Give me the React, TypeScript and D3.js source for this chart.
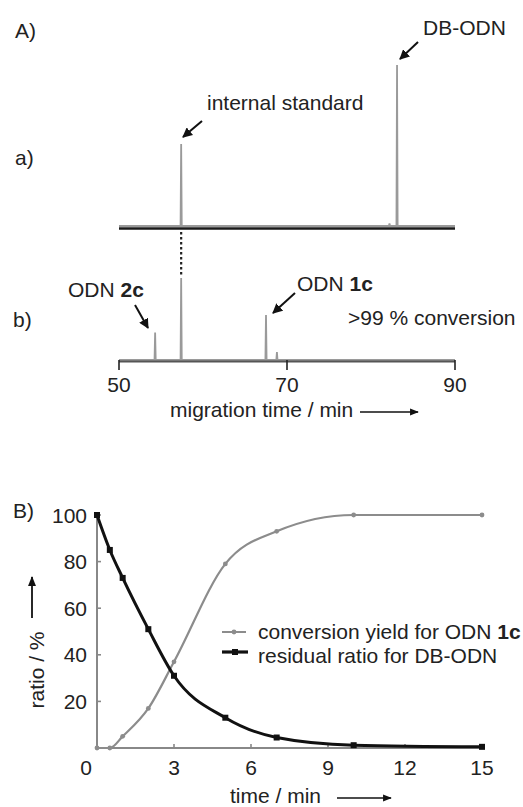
import React from "react";
import * as d3 from "d3";

// ---- Panel A data (capillary electrophoresis traces) ----
const migTicks = [50, 70, 90];
// peaks: migration time (min), relative intensity (a.u.)
const traceAPeaks = [
  { t: 57.4, h: 51 },
  { t: 82.2, h: 1.5 },
  { t: 83.1, h: 100 },
];
const traceBPeaks = [
  { t: 54.3, h: 17 },
  { t: 57.4, h: 51 },
  { t: 67.5, h: 28 },
  { t: 68.8, h: 5 },
];

// ---- Panel B data ----
const timePoints = [0, 0.5, 1, 2, 3, 5, 7, 10, 15];
const conversionYield = [0, 0, 5, 17, 37, 79, 93, 100, 100];
const residualRatio = [100, 85, 73, 51, 31, 13, 4.5, 1.2, 0.5];
const timeTicks = [0, 3, 6, 9, 12, 15];
const ratioTicks = [20, 40, 60, 80, 100];

const FONT = "'Liberation Sans', Arial, Helvetica, sans-serif";
const FS = 21;

export default function App() {
  // Panel A scales
  const xA = d3.scaleLinear().domain([50, 90]).range([119, 455]);
  const hA = d3.scaleLinear().domain([0, 100]).range([0, 161]);
  const baseA = 226;
  const baseB = 360;
  const halfW = 0.07;

  const tracePath = (peaks: { t: number; h: number }[], base: number) => {
    const pts: [number, number][] = [[50, 0]];
    peaks.forEach((p) => {
      pts.push([p.t - halfW, 0], [p.t, p.h], [p.t + halfW, 0]);
    });
    pts.push([90, 0]);
    return d3
      .line<[number, number]>()
      .x((d) => xA(d[0]))
      .y((d) => base - hA(d[1]))(pts) as string;
  };

  // Panel B scales
  const xB = d3.scaleLinear().domain([0, 15]).range([97, 482]);
  const yB = d3.scaleLinear().domain([0, 100]).range([748, 515]);
  const convData = timePoints.map((t, i) => [t, conversionYield[i]] as [number, number]);
  const resData = timePoints.map((t, i) => [t, residualRatio[i]] as [number, number]);
  const lineB = d3
    .line<[number, number]>()
    .x((d) => xB(d[0]))
    .y((d) => yB(d[1]))
    .curve(d3.curveMonotoneX);

  const isX = xA(traceAPeaks[0].t);

  return (
    <svg width={523} height={807} style={{ position: "absolute", left: 0, top: 0, background: "#fff" }}
      fontFamily={FONT} fontSize={FS} fill="#222">
      <defs>
        <marker id="ah" viewBox="0 0 10 10" refX="9" refY="5" markerWidth="5" markerHeight="5" orient="auto" markerUnits="strokeWidth">
          <path d="M0,0 L10,5 L0,10 z" fill="#111" />
        </marker>
        <marker id="ah2" viewBox="0 0 10 10" refX="9" refY="5" markerWidth="8" markerHeight="5.5" orient="auto" markerUnits="strokeWidth">
          <path d="M0,1 L10,5 L0,9 z" fill="#111" />
        </marker>
      </defs>
      <rect x={0} y={0} width={523} height={807} fill="#fff" />

      {/* ---------------- Panel A ---------------- */}
      <text x={15} y={38}>A)</text>
      <text x={15} y={165}>a)</text>
      <text x={13} y={327}>b)</text>

      {/* trace a */}
      <line x1={119} x2={455} y1={228.5} y2={228.5} stroke="#1a1a1a" strokeWidth={2.5} />
      <path d={tracePath(traceAPeaks, baseA)} fill="none" stroke="#9a9a9a" strokeWidth={1.8} />

      {/* dotted connector */}
      <line x1={isX} x2={isX} y1={232} y2={276} stroke="#222" strokeWidth={2.2} strokeDasharray="2.5,2.5" />

      {/* trace b */}
      <path d={tracePath(traceBPeaks, baseB)} fill="none" stroke="#9a9a9a" strokeWidth={1.8} />
      <line x1={119} x2={455} y1={361.5} y2={361.5} stroke="#555" strokeWidth={1.8} />
      {migTicks.map((t) => (
        <g key={t}>
          <line x1={xA(t)} x2={xA(t)} y1={360} y2={370} stroke="#222" strokeWidth={1.6} />
          <text x={xA(t)} y={392} textAnchor="middle">{t}</text>
        </g>
      ))}
      <text x={170} y={417}>migration time / min</text>
      <line x1={360} x2={418} y1={412} y2={412} stroke="#111" strokeWidth={1.6} markerEnd="url(#ah2)" />

      {/* annotations */}
      <text x={423} y={35}>DB-ODN</text>
      <line x1={418} y1={42} x2={400} y2={59} stroke="#111" strokeWidth={2} markerEnd="url(#ah)" />
      <text x={207} y={110}>internal standard</text>
      <line x1={202} y1={121} x2={183} y2={137} stroke="#111" strokeWidth={2} markerEnd="url(#ah)" />
      <text x={68} y={297}>ODN <tspan fontWeight="bold">2c</tspan></text>
      <line x1={135} y1={305} x2={148} y2={328} stroke="#111" strokeWidth={2} markerEnd="url(#ah)" />
      <text x={297} y={291}>ODN <tspan fontWeight="bold">1c</tspan></text>
      <line x1={295} y1={293} x2={273} y2={313} stroke="#111" strokeWidth={2} markerEnd="url(#ah)" />
      <text x={348} y={325}>&gt;99 % conversion</text>

      {/* ---------------- Panel B ---------------- */}
      <text x={13} y={518}>B)</text>

      {/* axes */}
      <line x1={xB(0)} x2={xB(0)} y1={yB(0)} y2={yB(100) - 2} stroke="#888" strokeWidth={2} />
      <line x1={xB(0)} x2={xB(15)} y1={yB(0)} y2={yB(0)} stroke="#888" strokeWidth={2} />
      {ratioTicks.map((v) => (
        <g key={v}>
          <line x1={xB(0)} x2={xB(0) + 4} y1={yB(v)} y2={yB(v)} stroke="#888" strokeWidth={1.6} />
          <text x={87} y={yB(v) + 7.5} textAnchor="end">{v}</text>
        </g>
      ))}
      {timeTicks.map((t) => (
        <g key={t}>
          {t > 0 && <line x1={xB(t)} x2={xB(t)} y1={yB(0)} y2={yB(0) - 4} stroke="#888" strokeWidth={1.6} />}
          <text x={t === 0 ? 86 : xB(t)} y={775} textAnchor="middle">{t}</text>
        </g>
      ))}
      <text x={230} y={803}>time / min</text>
      <line x1={337} x2={391} y1={798} y2={798} stroke="#111" strokeWidth={1.6} markerEnd="url(#ah2)" />

      <g transform="translate(44,670) rotate(-90)">
        <text x={0} y={0} textAnchor="middle">ratio / %</text>
      </g>
      <line x1={32} x2={32} y1={618} y2={577} stroke="#111" strokeWidth={1.8} markerEnd="url(#ah2)" />

      {/* series */}
      <path d={lineB(convData) as string} fill="none" stroke="#8c8c8c" strokeWidth={2.2} />
      {convData.map((d, i) => (
        <circle key={"c" + i} cx={xB(d[0])} cy={yB(d[1])} r={2.4} fill="#8c8c8c" />
      ))}
      <path d={lineB(resData) as string} fill="none" stroke="#111" strokeWidth={3} />
      {resData.map((d, i) => (
        <rect key={"r" + i} x={xB(d[0]) - 3} y={yB(d[1]) - 3} width={6} height={6} fill="#111" />
      ))}

      {/* legend */}
      <line x1={222} x2={246} y1={632} y2={632} stroke="#8c8c8c" strokeWidth={2} />
      <circle cx={234} cy={632} r={2.4} fill="#8c8c8c" />
      <text x={258} y={639}>conversion yield for ODN <tspan fontWeight="bold">1c</tspan></text>
      <line x1={222} x2={248} y1={652} y2={652} stroke="#111" strokeWidth={3.2} />
      <rect x={232} y={649} width={6} height={6} fill="#111" />
      <text x={258} y={663}>residual ratio for DB-ODN</text>
    </svg>
  );
}
